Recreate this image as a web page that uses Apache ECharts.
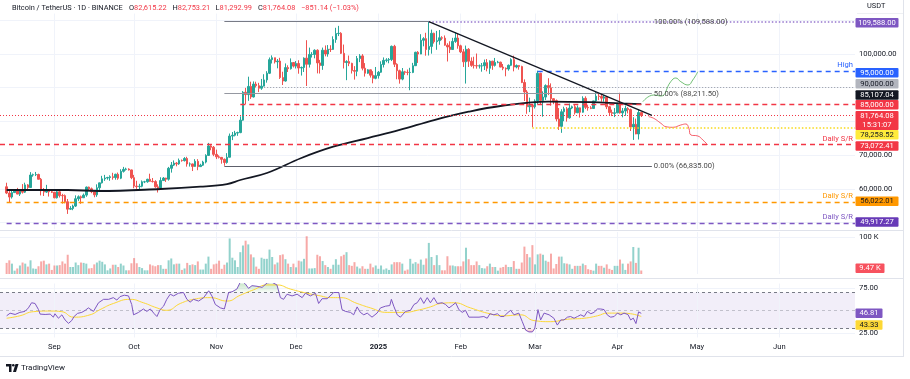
<!DOCTYPE html>
<html><head><meta charset="utf-8">
<script src="https://cdn.jsdelivr.net/npm/echarts@6/dist/echarts.min.js"></script>
<style>html,body{margin:0;padding:0;background:#fff;}#c{width:910px;height:379px;}</style>
</head><body><div id="c"></div>
<script>
// ---------------- DATA ----------------
const startDate = '2024-08-12';
const endDate = '2025-06-29';
const firstCandleDate = '2024-08-14';
const firstOpen = 60600;
const closes = [
58740,57560,58870,59490,58430,59480,59000,61160,60380,64090,64180,64250,62830,59420,59030,59360,59120,58970,
57325,59110,57980,57970,56160,53960,54160,54870,57050,57640,57340,58130,60500,60000,59130,58210,60310,61760,62950,63200,63350,63580,63330,64300,63140,65180,65770,65860,65600,63300,
60800,60650,60750,62070,62090,62820,62220,62130,60580,60270,62440,63190,62850,66080,67030,67610,67400,68420,68360,69000,67360,67380,66650,68160,66580,67010,67930,69900,72720,72330,70220,
69480,69330,68750,67800,69370,75640,75900,76540,76680,80370,88650,87950,90380,87250,91070,90600,89850,90460,92310,94290,98320,98890,97680,97900,93010,91980,95960,95640,97460,96410,
97190,95840,96000,98770,96950,99870,99870,101110,97360,96590,101130,100000,101410,101370,104300,106060,106140,100200,97460,97760,97220,95100,94880,98660,99430,95790,94300,95300,93710,92790,93580,
94590,96890,98110,98240,98350,102280,96950,95040,92550,94720,94560,94520,94530,96530,100500,99990,104080,104560,101330,102260,106140,103650,103960,104820,104710,102620,102080,101330,103730,104740,102430,
100640,97690,101400,97870,96620,96550,96470,96480,96500,97430,95780,97870,96620,97510,97570,96120,95770,95540,96640,98330,96130,96580,96270,91550,88740,84350,84710,84350,
86060,94270,86220,87220,90620,89960,86740,86150,80730,78530,82860,83720,81070,83970,84340,82580,84020,82720,86850,84170,84040,83830,86080,87500,87390,86900,87230,84350,82650,82390,82550,
85160,82520,83100,83840,83500,78370,79140,76270,82615.22,81764.08];
const highs = [
61800,59850,59800,59650,60270,59620,61400,61810,61400,64950,64510,65000,64480,63210,60230,61170,59860,59460,
59060,59400,59800,58510,58320,56980,54850,55300,58050,58040,57990,58600,60670,60650,60380,59210,61320,61790,63850,64130,63560,64000,64750,64480,64820,65800,66500,66260,66080,65700,
64130,62380,61480,62480,62370,62980,64480,63200,62540,61320,63420,63480,63270,66500,67950,68420,67940,68980,68690,69400,69500,67840,67470,68800,68800,67430,68310,70250,73620,72960,72700,
71620,69950,69400,69000,70580,76400,76850,77200,76950,81500,89000,89950,93265,91780,91860,91780,91450,92600,94000,94900,98970,99590,98900,98500,98870,94740,97200,96650,98690,97500,
97900,98150,96300,99000,104090,101900,100550,101400,101400,98250,101900,102540,102650,102600,105250,107780,108350,106470,102800,98150,99540,97400,96400,99400,99960,99960,97300,95500,95400,94900,96150,
94950,97830,98980,98750,98800,102500,102720,97250,95350,95840,95000,95400,95900,97370,100680,100870,105870,104990,106300,109588,107240,106330,106850,107120,105280,105500,103200,103780,104800,106460,106000,
102750,101460,102500,101750,99000,99190,100140,96880,97330,98350,98500,98110,97970,98830,97970,97720,97040,96000,96900,98730,99500,96890,96670,96520,92470,89280,87050,85120,
86560,95040,94420,88910,91000,92810,91280,86880,86500,83960,83620,84360,84250,85310,84680,85000,84730,84100,87450,87440,84850,84520,86100,88770,88500,88280,87790,87520,84570,83500,83950,
85500,88500,83980,84720,84230,83800,81240,80820,83590,82753.21];
const lows = [
58430,56080,57100,58780,58400,57860,58600,58780,59800,60350,63590,63780,62800,58030,57860,58790,57700,58740,
57200,57120,57420,55600,55700,52550,53740,53650,54600,56400,55550,57330,57630,59560,58700,57490,57610,59170,61570,62350,62700,62380,62700,62700,62670,62870,64820,65420,65430,62860,
60160,59980,59830,60450,61680,61800,62120,61860,60300,58900,60050,62410,62040,62430,64800,66750,66670,67100,68050,68100,66570,66600,65270,66500,65520,66560,66770,67540,69730,71440,69680,
68820,69000,67460,66835,67460,69300,74450,75560,75720,76500,80220,85070,86100,86670,87100,90050,88700,89360,90900,91500,94050,97180,97180,95750,92600,90800,91800,94650,95380,96000,
95700,94150,93600,94660,90500,95980,98950,98720,94250,94200,95300,99300,99200,100600,101230,103320,105320,100000,95700,92230,96400,94200,92400,93400,97580,95140,93300,94100,93000,91300,92500,
92700,94400,96000,97550,97250,97900,96130,92500,91200,92200,93830,93700,89250,94320,96500,97350,99950,102280,99500,99550,100100,103100,101250,102750,104100,102450,97780,100270,101330,103300,101560,
100280,96150,91230,96150,96200,95700,95650,95690,94750,95250,94850,94090,95300,96270,97240,96050,95200,93380,95050,96400,94850,95750,95350,91350,86050,82260,82750,78258.52,
83820,85050,85080,81390,86340,87800,84670,85100,80000,77460,76610,80050,79940,80800,83630,82030,82450,81130,82600,83650,83170,83650,83790,85540,86300,85850,85850,83650,81650,81570,81280,
82430,82320,81210,81660,82370,77150,74510,76200,74620,81292.99];
const volumesK = [
30,37,28,9,15,23,31,28,20,37,15,14,21,34,36,26,28,11,23,23,24,34,28,52,19,19,31,24,31,30,28,15,16,26,31,36,33,26,10,15,25,
25,19,28,23,10,10,29,43,29,19,16,10,10,26,23,21,24,24,14,14,37,42,26,28,28,11,15,30,24,26,24,34,12,12,28,47,14,26,28,36,
14,25,31,96,44,37,19,59,77,90,80,53,45,20,14,44,41,41,66,46,26,31,51,53,40,28,19,28,18,36,34,41,
102,15,15,16,52,48,35,24,19,14,25,40,25,48,52,59,24,22,32,20,15,21,14,14,28,18,23,
14,23,12,15,11,26,32,32,32,28,9,12,41,28,32,28,39,25,42,84,46,24,51,24,10,10,48,23,23,21,21,
21,34,71,40,24,24,34,24,16,15,21,28,19,19,9,17,19,25,19,19,35,14,14,31,74,54,45,78,
26,53,55,52,36,33,55,15,27,47,47,29,28,26,14,22,22,22,28,24,13,11,9,28,22,22,17,26,14,11,22,
22,39,28,11,28,34,73,30,71,9.47];
const maDates = ['2024-08-14','2024-09-06','2024-09-18','2024-10-11','2024-10-26','2024-11-05','2024-11-10','2024-11-20','2024-12-03','2024-12-15','2024-12-28','2025-01-09','2025-01-22','2025-02-04','2025-02-16','2025-03-06','2025-03-22','2025-04-02','2025-04-10'];
const maValues = [59640,59640,59350,59940,60620,61420,62610,64690,69140,72490,75070,77450,80410,82880,84570,85850,85700,85350,85107.04];
const rsiDays = [2.0,3.3,5.2,7.0,8.9,10.2,11.4,12.7,14.0,14.6,16.5,18.4,19.6,20.2,21.5,22.8,24.0,25.3,26.5,27.4,28.7,30.3,31.6,32.8,34.7,36.6,38.5,40.4,42.2,43.5,44.7,46.3,47.9,49.1,49.8,51.7,53.5,54.8,56.1,57.6,58.6,59.8,61.1,62.3,63.6,64.9,66.7,68.6,69.9,71.1,72.4,74.3,76.2,78.1,79.3,80.6,82.5,84.0,85.6,86.9,88.7,90.3,91.9,93.1,94.4,96.3,98.2,100.1,101.9,103.8,105.1,106.3,107.6,109.5,111.4,113.3,114.5,116.4,118.3,119.5,120.8,122.7,
125.2,127.1,128.3,129.6,131.5,132.7,134.0,135.2,136.5,137.8,139.6,141.5,142.8,144.7,146.3,146.9,147.8,149.1,150.3,152.2,154.1,155.4,156.6,157.9,159.1,160.4,161.6,162.9,164.2,166.0,167.3,168.6,169.8,171.1,172.3,173.6,174.8,176.1,178.0,179.9,181.7,183.0,184.0,185.5,186.8,188.0,189.3,190.5,191.8,193.1,194.9,196.2,197.5,198.7,200.0,200.9,202.1,203.1,204.4,206.3,208.1,209.4,210.7,211.9,213.2,214.4,215.7,217.0,218.2,219.5,220.7,222.0,223.2,224.5,225.7,227.0,228.3,229.5,230.8,232.0,233.3,234.5,236,237,238,239,240,241];
const rsiValues = [44.1,47,45.6,47.9,49,52.9,58.6,57.8,51,46,45.6,46,42.6,46.4,41.4,45.2,39.5,35.7,38.8,43.3,46.8,47.9,50.2,52.9,49,58.6,62.4,62.4,64.3,61.6,65.4,67,66.2,56.7,45.2,47.9,51.7,49,51.7,46.4,43.3,51,54.8,62.4,68.1,66.2,69.2,70,62.4,59.3,62.4,60.5,64.3,71.9,66.2,56.7,52.9,51.7,70,70.8,73.8,83.3,79.5,74.6,77.6,76.9,75.7,80.7,81.4,78.4,64.3,62.4,68.1,66.2,68.1,64.3,69.2,66.2,69.2,57.8,63.1,63.1,
70,70,51,49,47.9,45.2,54,47.9,45.2,47.1,42.6,47.1,52.9,54.8,55.5,62.4,54.8,45.2,42.6,49,50.2,56.7,58.6,64.3,57.8,64.3,58.6,64.3,57.8,58.6,56.7,52.9,55.5,58.6,51,47.9,50.2,42.6,42.6,42.6,43.3,41.4,46.4,45.2,46.4,43.3,43.3,47.1,50.2,45.2,47.1,37.6,28.1,26.2,26.2,30,51,39.5,47.1,45.2,41.4,33.8,39.5,39.5,42.6,43.3,41.4,43.3,45.2,43.3,49,46.4,47.9,51.7,51.7,51,44.8,42.6,43.3,47.1,45.2,47.1,45.5,39.5,41.5,35.5,48.5,46.81];
const sigDays = [2.0,7.0,12.1,18.4,22.8,27.2,33.4,37.2,42.2,48.5,53.5,58.6,62.3,67.4,72.4,78.7,85.0,90.0,95.0,100.1,103.8,108.9,115.1,120.2,123.9,127.7,134.0,139.0,145.3,151.6,156.6,161.6,165.4,170.4,176.7,183.0,189.3,195.6,200.6,206.9,213.2,219.5,224.5,228.3,233.3,237.0,241];
const sigValues = [41.4,44.1,48.7,49.4,48.7,42.6,45.2,51,57.8,62.4,58.6,52.9,50.2,57.8,62.4,64.3,60.5,67,73,78.4,78.4,73.8,69.2,66.2,64.3,64.3,57.8,52.9,47.9,47.9,50.2,54,57.8,58.6,52.9,47.1,44.1,45.2,38.8,37.6,40.3,41.4,44.1,47.1,47.1,46.4,43.33];
const projUpDays = [241.6,245.7,248.4,252.1,254,255.9,258.6,260.4,262.3];
const projUpValues = [85846,87834,87537,91780,92878,91780,90801,92285,94748];
const projDownDays = [243.8,245.7,248.4,250.3,252.9,255.9,257.8,258.9,259.7,262.3,264.2,266.1];
const projDownValues = [81395,80920,79436,78427,78249,78932,79228,78042,75964,75668,74481,72997];
const athDate = '2025-01-20', athPrice = 109588;
const fibLowDate = '2024-11-04', fibLowPrice = 66835;
const drawEndDate = '2025-04-14';
const trendEndPrice = 81810;
const levelHigh = 95000, level90 = 90000, level85 = 85000;
const srRed = 73072.41, srOrange = 56022.01, srPurple = 49917.27;
const feb28Low = 78258.52;
const rsiLast = 46.81, rsiSigLast = 43.33;
const volLastK = 9.47;
const changeText = '\u2212851.14 (\u22121.03%)';
const timerText = '15:31:07';

// ---------------- BUILD ----------------
const DAY = 86400000;
const t0 = Date.parse(startDate + 'T00:00:00Z');
const idxOf = d => Math.round((Date.parse(d + 'T00:00:00Z') - t0) / DAY);
const N = idxOf(endDate) + 1;
const cats = [];
for (let i = 0; i < N; i++) cats.push(new Date(t0 + i * DAY).toISOString().slice(0, 10));
const c0 = idxOf(firstCandleDate);
const lastIdx = c0 + closes.length - 1;
const candles = closes.map((c, i) => [c0 + i, i === 0 ? firstOpen : closes[i - 1], c, lows[i], highs[i]]);
const UP = '#26a69a', DN = '#ef5350';
const vols = volumesK.map((v, i) => ({ value: [c0 + i, v * 1000], itemStyle: { color: candles[i][2] >= candles[i][1] ? 'rgba(38,166,154,0.5)' : 'rgba(239,83,80,0.5)' } }));
const maData = maDates.map((d, i) => [idxOf(d), maValues[i]]);
const rsiData = rsiDays.map((d, i) => [d, rsiValues[i]]);
const sigData = sigDays.map((d, i) => [d, sigValues[i]]);
const rsiOver = rsiData.map(([d, v]) => [d, Math.max(v, 70)]);
const rsiUnder = rsiData.map(([d, v]) => [d, Math.min(v, 30)]);
const monthStarts = cats.map((c, i) => c.slice(8) === '01' ? i : -1).filter(i => i >= 0);
const fmt2 = v => v.toLocaleString('en-US', { minimumFractionDigits: 2, maximumFractionDigits: 2 });
const XL = -0.5, XR = N - 0.5;
const iAth = idxOf(athDate), iFib = idxOf(fibLowDate), iEnd = idxOf(drawEndDate);
const fibMid = fibLowPrice + (athPrice - fibLowPrice) * 0.5;
const lastClose = closes[closes.length - 1];
const maLast = maValues[maValues.length - 1];

const FONT = 'Roboto, "Liberation Sans", Arial, sans-serif';
const FS = 7.6;
const TXT = '#131722';
const GRIDC = '#f0f3fa';

function hl(y, x1, x2, color, type, width, label) {
  return [{ coord: [x1, y], lineStyle: { color, type, width }, label: label || { show: false } }, { coord: [x2, y] }];
}
function lab(text, color, pos) {
  return { show: true, formatter: text, position: pos || 'insideEndTop', color, fontSize: FS, fontFamily: FONT, distance: 2 };
}

const hGrid = [50000, 60000, 70000, 80000, 90000, 100000, 110000];

const option = {
  animation: false,
  backgroundColor: '#ffffff',
  grid: [
    { left: 0, width: 855, top: 13.56, height: 215.68, containLabel: false, outerBoundsMode: 'none' },
    { left: 0, width: 855, top: 232, height: 42, containLabel: false, outerBoundsMode: 'none' },
    { left: 0, width: 855, top: 283.5, height: 54, containLabel: false, outerBoundsMode: 'none' }
  ],
  xAxis: [
    { type: 'category', gridIndex: 0, data: cats, boundaryGap: true, show: false },
    { type: 'category', gridIndex: 1, data: cats, boundaryGap: true, show: false },
    { type: 'category', gridIndex: 2, data: cats, boundaryGap: true,
      axisLine: { show: false }, axisTick: { show: false }, splitLine: { show: false },
      axisLabel: { interval: (i, v) => v.slice(8) === '01', margin: 6, fontSize: FS, fontFamily: FONT, color: TXT,
        formatter: v => { const m = +v.slice(5, 7); return m === 1 ? '{y|' + v.slice(0, 4) + '}' : ['Jan','Feb','Mar','Apr','May','Jun','Jul','Aug','Sep','Oct','Nov','Dec'][m - 1]; },
        rich: { y: { fontWeight: 'bold', fontSize: FS, fontFamily: FONT, color: TXT } } } },
    { type: 'value', gridIndex: 0, min: XL, max: XR, show: false },
    { type: 'value', gridIndex: 2, min: XL, max: XR, show: false },
    { type: 'value', gridIndex: 1, min: XL, max: XR, show: false }
  ],
  yAxis: [
    { type: 'value', gridIndex: 0, position: 'right', min: 48000, max: 112000, splitLine: { show: false }, axisLine: { show: false }, axisTick: { show: false },
      axisLabel: { customValues: [60000, 70000, 100000], formatter: v => fmt2(v), margin: 4, fontSize: FS, fontFamily: FONT, color: TXT } },
    { type: 'value', gridIndex: 1, position: 'right', min: 0, max: 113500, splitLine: { show: false }, axisLine: { show: false }, axisTick: { show: false },
      axisLabel: { customValues: [100000], formatter: () => '100 K', margin: 4, fontSize: FS, fontFamily: FONT, color: TXT } },
    { type: 'value', gridIndex: 2, position: 'right', min: 20, max: 80, splitLine: { show: false }, axisLine: { show: false }, axisTick: { show: false },
      axisLabel: { customValues: [25, 75], formatter: v => v.toFixed(2), margin: 4, fontSize: FS, fontFamily: FONT, color: TXT } }
  ],
  series: [
    // grid lines main
    { type: 'line', xAxisIndex: 3, yAxisIndex: 0, data: [[XL, 0]], showSymbol: false, lineStyle: { opacity: 0 }, silent: true,
      markLine: { z: 0, silent: true, symbol: ['none', 'none'], label: { show: false },
        data: hGrid.map(v => ({ yAxis: v, lineStyle: { color: GRIDC, type: 'solid', width: 1 } }))
          .concat(monthStarts.map(i => ({ xAxis: i, lineStyle: { color: GRIDC, type: 'solid', width: 1 } }))) } },
    { type: 'candlestick', xAxisIndex: 0, yAxisIndex: 0, data: candles, encode: { x: 0, y: [1, 2, 3, 4] }, barWidth: 2, z: 3,
      itemStyle: { color: UP, color0: DN, borderColor: UP, borderColor0: DN, borderWidth: 1 } },
    { type: 'line', xAxisIndex: 3, yAxisIndex: 0, data: maData, smooth: 0.4, showSymbol: false, z: 4,
      lineStyle: { color: '#131722', width: 1.8 },
      markLine: { z: 6, silent: true, symbol: ['none', 'none'], label: { show: false },
        data: [
          hl(athPrice, iFib, iAth, '#787b86', 'solid', 1),
          hl(athPrice, iAth, XR, '#9575cd', [1.5, 2], 1.5),
          hl(athPrice, iAth, iEnd, 'rgba(0,0,0,0)', 'solid', 1, lab('100.00% (' + fmt2(athPrice) + ')', '#4a4a4a', 'end')),
          hl(fibMid, iFib, iEnd, '#9598a1', 'solid', 1, lab('50.00% (' + fmt2(fibMid) + ')', '#4a4a4a', 'end')),
          hl(fibLowPrice, iFib, iEnd, '#5d606b', 'solid', 1, lab('0.00% (' + fmt2(fibLowPrice) + ')', '#4a4a4a', 'end')),
          hl(level90, 99, XR, '#9598a1', [1, 2], 1),
          hl(levelHigh, idxOf('2025-03-02'), XR, '#2962ff', [5, 4], 1.3, lab('High', '#2962ff')),
          hl(level85, 90, XR, '#f23645', [5, 4], 1.3),
          hl(lastClose, XL, XR, '#f23645', [1, 2], 1),
          hl(feb28Low, idxOf('2025-02-28'), XR, '#f7d91b', [1.5, 2], 1.5),
          hl(srRed, XL, XR, '#f23645', [5, 4], 1.3, lab('Daily S/R', '#f23645')),
          hl(srOrange, c0, XR, '#ff9800', [5, 4], 1.3, lab('Daily S/R', '#ff9800')),
          hl(srPurple, c0, XR, '#7e57c2', [5, 4], 1.3, lab('Daily S/R', '#7e57c2')),
          [{ coord: [iAth, athPrice], lineStyle: { color: '#131722', type: 'solid', width: 1.3 } }, { coord: [iEnd, trendEndPrice] }]
        ] } },
    { type: 'line', xAxisIndex: 3, yAxisIndex: 0, data: projUpDays.map((d, i) => [d, projUpValues[i]]), smooth: 0.5, showSymbol: false, z: 5,
      lineStyle: { color: '#4caf50', width: 0.8 } },
    { type: 'line', xAxisIndex: 3, yAxisIndex: 0, data: projDownDays.map((d, i) => [d, projDownValues[i]]), smooth: 0.5, showSymbol: false, z: 5,
      lineStyle: { color: '#f23645', width: 0.8 } },
    // volume
    { type: 'bar', xAxisIndex: 1, yAxisIndex: 1, data: vols, barWidth: 2, z: 3,
      markLine: { z: 0, silent: true, symbol: ['none', 'none'], label: { show: false },
        data: [{ yAxis: 100000, lineStyle: { color: GRIDC, type: 'solid', width: 1 } }]
          .concat(monthStarts.map(i => ({ xAxis: i, lineStyle: { color: GRIDC, type: 'solid', width: 1 } }))) } },
    // RSI
    { type: 'line', xAxisIndex: 4, yAxisIndex: 2, data: rsiOver, showSymbol: false, z: 2, lineStyle: { width: 0, opacity: 0 },
      areaStyle: { origin: 70, color: new echarts.graphic.LinearGradient(0, 0, 0, 1, [{ offset: 0, color: 'rgba(76,175,80,0.55)' }, { offset: 1, color: 'rgba(76,175,80,0.05)' }]) } },
    { type: 'line', xAxisIndex: 4, yAxisIndex: 2, data: rsiUnder, showSymbol: false, z: 2, lineStyle: { width: 0, opacity: 0 },
      areaStyle: { origin: 30, color: new echarts.graphic.LinearGradient(0, 0, 0, 1, [{ offset: 0, color: 'rgba(242,54,69,0.05)' }, { offset: 1, color: 'rgba(242,54,69,0.5)' }]) } },
    { type: 'line', xAxisIndex: 4, yAxisIndex: 2, data: sigData, smooth: 0.5, showSymbol: false, z: 3, lineStyle: { color: '#fdd835', width: 1 } },
    { type: 'line', xAxisIndex: 4, yAxisIndex: 2, data: rsiData, showSymbol: false, z: 4, lineStyle: { color: '#7e57c2', width: 1 },
      markArea: { silent: true, itemStyle: { color: 'rgba(126,87,194,0.1)' }, data: [[{ yAxis: 30 }, { yAxis: 70 }]] },
      markLine: { z: 1, silent: true, symbol: ['none', 'none'], label: { show: false },
        data: [
          { yAxis: 25, lineStyle: { color: GRIDC, type: 'solid', width: 1 } },
          { yAxis: 75, lineStyle: { color: GRIDC, type: 'solid', width: 1 } },
          { yAxis: 70, lineStyle: { color: '#787b86', type: [3, 3], width: 1 } },
          { yAxis: 50, lineStyle: { color: 'rgba(120,123,134,0.4)', type: [3, 3], width: 1 } },
          { yAxis: 30, lineStyle: { color: '#787b86', type: [3, 3], width: 1 } }
        ].concat(monthStarts.map(i => ({ xAxis: i, lineStyle: { color: GRIDC, type: 'solid', width: 1 } }))) } }
  ]
};

const chart = echarts.init(document.getElementById('c'));
chart.setOption(option);

// ---------------- TEXT / BADGES ----------------
const g = [];
function txt(x, y, text, fill, opts) {
  g.push({ type: 'text', silent: true, z: 100, style: Object.assign({ x, y, text, fill, font: FS + 'px ' + FONT, verticalAlign: 'middle', align: 'left' }, opts || {}) });
}
function badge(axis, value, text, bg, fg, shift, w, h, lines) {
  const y = chart.convertToPixel({ yAxisIndex: axis }, value) + shift;
  const hh = h || 9.5;
  g.push({ type: 'rect', silent: true, z: 100, shape: { x: 855.5, y: y - 4.75, width: w || 43, height: hh, r: 1 }, style: { fill: bg } });
  txt(855.5 + (w || 43) / 2, y, text, fg, { align: 'center' });
  if (lines) txt(855.5 + (w || 43) / 2, y + 9, lines, fg, { align: 'center' });
}
badge(0, athPrice, fmt2(athPrice), '#7e57c2', '#fff', 1);
badge(0, levelHigh, fmt2(levelHigh), '#2962ff', '#fff', 2);
badge(0, level90, fmt2(level90), '#b2b5be', '#131722', -4);
badge(0, maLast, fmt2(maLast), '#131722', '#fff', -9.3);
badge(0, level85, fmt2(level85), '#f23645', '#fff', 0.3);
badge(0, lastClose, fmt2(lastClose), '#f23645', '#fff', 0.4, 43, 19, timerText);
badge(0, feb28Low, fmt2(feb28Low), '#ffeb3b', '#131722', 7.6);
badge(0, srRed, fmt2(srRed), '#f23645', '#fff', 1.2);
badge(0, srOrange, fmt2(srOrange), '#ff9800', '#131722', -1);
badge(0, srPurple, fmt2(srPurple), '#673ab7', '#fff', -0.7);
badge(1, volLastK * 1000, volLastK.toFixed(2) + ' K', '#f7525f', '#fff', -2.3, 29);
badge(2, rsiLast, rsiLast.toFixed(2), '#7e57c2', '#fff', 0, 27);
badge(2, rsiSigLast, rsiSigLast.toFixed(2), '#fdd835', '#131722', 8.6, 27);

// header
txt(12, 8, 'Bitcoin / TetherUS \u00b7 1D \u00b7 BINANCE', TXT, { font: '7.4px ' + FONT });
const lastO = candles[candles.length - 1][1];
const ohlc = [['O', lastO, 129], ['H', highs[highs.length - 1], 172.5], ['L', lows[lows.length - 1], 215.5], ['C', lastClose, 258]];
ohlc.forEach(([k, v, x]) => {
  g.push({ type: 'text', silent: true, z: 100, style: { x, y: 8, verticalAlign: 'middle', text: '{k|' + k + '}{v|' + fmt2(v) + '}',
    rich: { k: { fill: TXT, font: '7.4px ' + FONT }, v: { fill: '#f23645', font: '7.4px ' + FONT } } } });
});
txt(301, 8, changeText, '#f23645', { font: '7.4px ' + FONT });
txt(867, 6.5, 'USDT', TXT, { font: '7.4px ' + FONT });
// frame lines
const line = (x1, y1, x2, y2, c) => g.push({ type: 'line', silent: true, z: 90, shape: { x1, y1, x2, y2 }, style: { stroke: c || '#e0e3eb', lineWidth: 1 } });
line(0, 230.5, 903, 230.5);
line(0, 278.5, 903, 278.5);
line(0, 356.5, 903, 356.5);
line(903.5, 0, 903.5, 357);
line(857, 13.5, 903, 13.5, '#eef0f3');
// TradingView logo
g.push({ type: 'polygon', silent: true, z: 100, shape: { points: [[6, 364], [11.5, 364], [11.5, 372], [9, 372], [9, 366.5], [6, 366.5]] }, style: { fill: TXT } });
g.push({ type: 'circle', silent: true, z: 100, shape: { cx: 13.3, cy: 365.3, r: 1.3 }, style: { fill: TXT } });
g.push({ type: 'polygon', silent: true, z: 100, shape: { points: [[15.5, 364], [18.5, 364], [16, 372], [13, 372]] }, style: { fill: TXT } });
txt(21, 368, 'TradingView', TXT, { font: '8px ' + FONT });

chart.setOption({ graphic: g });
</script>
</body></html>
